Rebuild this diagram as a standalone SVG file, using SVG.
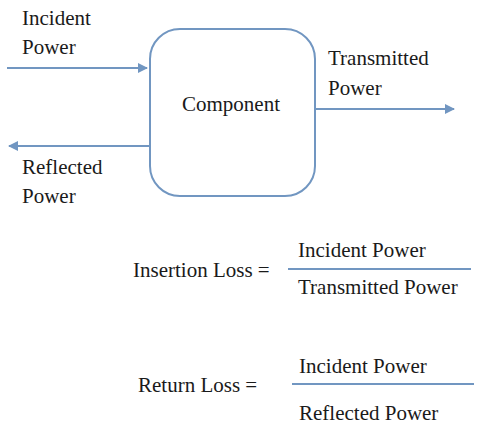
<svg xmlns="http://www.w3.org/2000/svg" width="496" height="440" viewBox="0 0 496 440">
<style>
.ln{stroke:#7196c1;stroke-width:2;fill:none}
</style>
<defs>
<marker id="ah" viewBox="0 0 10 10" refX="9" refY="5" markerWidth="5" markerHeight="5" orient="auto" markerUnits="strokeWidth">
<path d="M0,0 L10,5 L0,10 z" fill="#7196c1"/>
</marker>
</defs>
<rect width="496" height="440" fill="#fff"/>
<g font-family="Liberation Serif, Tinos, Times New Roman, DejaVu Serif, serif" font-size="21" fill="#1a1a1a">
<g id="component">
<rect class="ln" x="150" y="29" width="165" height="167" rx="30" ry="30"/>
<text x="182" y="111">Component</text>
</g>
<g id="labels">
<text x="22" y="25">Incident</text>
<text x="22" y="54">Power</text>
<text x="328" y="65">Transmitted</text>
<text x="328" y="95">Power</text>
<text x="22" y="174">Reflected</text>
<text x="22" y="203">Power</text>
</g>
<g id="connectors">
<line class="ln" x1="7" y1="68" x2="147" y2="68" marker-end="url(#ah)"/>
<line class="ln" x1="315" y1="109" x2="454" y2="109" marker-end="url(#ah)"/>
<line class="ln" x1="150" y1="146" x2="9" y2="146" marker-end="url(#ah)"/>
</g>
<g id="insertion-loss">
<text x="133" y="277">Insertion Loss =</text>
<text x="298" y="257">Incident Power</text>
<line class="ln" x1="288" y1="269" x2="471" y2="269"/>
<text x="298" y="294">Transmitted Power</text>
</g>
<g id="return-loss">
<text x="138" y="392">Return Loss =</text>
<text x="299" y="373">Incident Power</text>
<line class="ln" x1="292" y1="384" x2="474" y2="384"/>
<text x="299" y="420">Reflected Power</text>
</g>
</g>
</svg>
